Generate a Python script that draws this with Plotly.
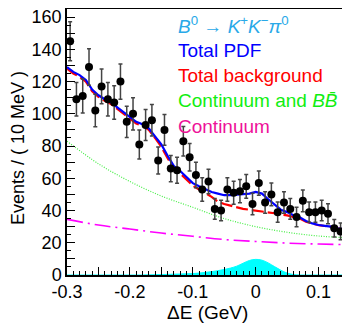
import numpy as np
import plotly.graph_objects as go

# ---- data ----
bin_centers = [-0.295, -0.285, -0.275, -0.265, -0.255, -0.245, -0.235, -0.225, -0.215, -0.205,
               -0.195, -0.185, -0.175, -0.165, -0.155, -0.145, -0.135, -0.125, -0.115, -0.105,
               -0.095, -0.085, -0.075, -0.065, -0.055, -0.045, -0.035, -0.025, -0.015, -0.005,
               0.005, 0.015, 0.025, 0.035, 0.045, 0.055, 0.065, 0.075, 0.085, 0.095,
               0.105, 0.115, 0.125, 0.135, 0.145]
events = [145, 109, 111, 129, 102, 117, 109, 107, 120, 95,
          100, 81, 93, 96, 71, 90, 66, 65, 83, 73,
          62, 53, 58, 41, 40, 53, 51, 52, 55, 44,
          57, 45, 50, 39, 45, 41, 36, 46, 39, 39,
          40, 38, 29, 27, 31]

curve_x = [-0.30, -0.29, -0.28, -0.27, -0.26, -0.25, -0.24, -0.23, -0.22, -0.21,
           -0.20, -0.19, -0.18, -0.17, -0.16, -0.15, -0.14, -0.13, -0.12, -0.11,
           -0.10, -0.09, -0.08, -0.07, -0.06, -0.05, -0.04, -0.03, -0.02, -0.01,
           0.00, 0.01, 0.02, 0.03, 0.04, 0.05, 0.06, 0.07, 0.08, 0.09,
           0.10, 0.11, 0.12, 0.13, 0.14, 0.15]
total_pdf = [129, 126, 124, 121, 115, 111.5, 109, 107, 104, 101,
             98.5, 95, 93.5, 91, 86, 81, 74, 67.5, 64.5, 60.5,
             57, 55, 53.3, 51.5, 50.5, 49.5, 49.5, 49.8, 50, 50.5,
             51.5, 50.5, 47, 43.5, 40.5, 39, 37, 35.8, 33.5, 32,
             31, 30.5, 30, 29, 28.5, 28]
total_bkg = [128, 125, 123, 120, 114, 110.5, 108, 106, 103, 100,
             97.5, 94, 92.5, 90, 85, 79.5, 72.5, 66, 63, 59,
             55.5, 53, 51, 48.5, 45.5, 44, 43, 41.8, 41, 40.5,
             40, 39.5, 39, 38.3, 37.5, 37, 36, 35, 33, 31.8,
             30.9, 30.4, 29.9, 28.9, 28.4, 27.9]
signal = [0, 0, 0, 0, 0, 0, 0, 0, 0, 0,
          0, 0, 0, 0.1, 0.2, 0.3, 0.4, 0.5, 0.6, 0.7,
          0.9, 1.2, 1.6, 2.1, 2.7, 3.4, 4.3, 5.5, 7.3, 9.0,
          9.7, 9.2, 7.5, 5.2, 3.0, 1.2, 0.3, 0, 0, 0,
          0, 0, 0, 0, 0, 0]

smooth_x = [-0.30, -0.25, -0.20, -0.15, -0.10, -0.05, 0.00, 0.05, 0.10, 0.15]
cont_bb = [83, 69, 58, 49, 42, 35, 30, 26.5, 24.2, 23]
continuum = [34.5, 31, 28.5, 26, 24, 22, 20.8, 19.8, 19.2, 18.8]

x_ticks = [-0.3, -0.25, -0.2, -0.15, -0.1, -0.05, 0.0, 0.05, 0.1]
x_ticktext = ["-0.3", "", "-0.2", "", "-0.1", "", "0", "", "0.1"]
y_ticks = [0, 10, 20, 30, 40, 50, 60, 70, 80, 90, 100, 110, 120, 130, 140, 150, 160]
y_ticktext = ["0", "", "20", "", "40", "", "60", "", "80", "", "100", "", "120", "", "140", "", "160"]

legend_lines = [
    ("<i>B</i><sup>0</sup> \u2192 <i>K</i><sup>+</sup><i>K</i><sup>\u2212</sup><i>\u03c0</i><sup>0</sup>", "#29a9e8"),
    ("Total PDF", "#0000ff"),
    ("Total background", "#ff0000"),
    ("Continuum and <i>B</i><i>B\u0304</i>", "#11ee11"),
    ("Continuum", "#ee1199"),
]

FONT = "Liberation Sans, Arial, Helvetica, sans-serif"

# The page body has an 8px margin, so the figure is sized to the visible area.
PX0, PY0 = 8, 8
FIG_W, FIG_H = 342, 321
PLOT_L, PLOT_R, PLOT_T, PLOT_B = 67, 350, 9, 275   # page pixels
PW, PH = PLOT_R - PLOT_L, PLOT_B - PLOT_T


def paper_x(px):
    return (px - PLOT_L) / PW


def paper_y(py):
    return (PLOT_B - py) / PH


fig = go.Figure()

fig.add_trace(go.Scatter(x=curve_x, y=signal, mode="lines", fill="tozeroy",
                         line=dict(color="#00ffff", width=1, shape="spline"),
                         fillcolor="#00ffff", hoverinfo="skip", showlegend=False))
fig.add_trace(go.Scatter(x=smooth_x, y=continuum, mode="lines",
                         line=dict(color="#ff00ff", width=1.6, dash="16px,5px,2px,5px", shape="spline"),
                         showlegend=False))
fig.add_trace(go.Scatter(x=smooth_x, y=cont_bb, mode="lines",
                         line=dict(color="#44ee44", width=1.2, dash="1px,1.5px", shape="spline"),
                         showlegend=False))
fig.add_trace(go.Scatter(x=curve_x, y=total_bkg, mode="lines",
                         line=dict(color="#ff0000", width=2.2, dash="12px,4px"),
                         showlegend=False))
fig.add_trace(go.Scatter(x=curve_x, y=total_pdf, mode="lines",
                         line=dict(color="#0000ff", width=2.2),
                         showlegend=False))
fig.add_trace(go.Scatter(x=bin_centers, y=events, mode="markers",
                         marker=dict(color="black", size=8),
                         error_y=dict(type="data", array=np.sqrt(events), color="#444444",
                                      thickness=1.5, width=2),
                         showlegend=False))

annotations = []
legend_y_px = [25, 50.5, 76, 100.5, 126]
for (txt, col), ypx in zip(legend_lines, legend_y_px):
    annotations.append(dict(xref="paper", yref="paper", x=paper_x(176), y=paper_y(ypx),
                            xanchor="left", yanchor="middle", text=txt, showarrow=False,
                            font=dict(family=FONT, size=19, color=col)))
annotations.append(dict(xref="paper", yref="paper", x=paper_x(207), y=paper_y(312),
                        xanchor="center", yanchor="middle", text="\u0394E (GeV)", showarrow=False,
                        font=dict(family=FONT, size=19, color="black")))
annotations.append(dict(xref="paper", yref="paper", x=paper_x(18), y=paper_y(148),
                        xanchor="center", yanchor="middle", text="Events / ( 10 MeV )",
                        textangle=-90, showarrow=False,
                        font=dict(family=FONT, size=18, color="black")))

fig.update_layout(
    width=FIG_W, height=FIG_H,
    margin=dict(l=PLOT_L - PX0, r=FIG_W - (PLOT_R - PX0), t=PLOT_T - PY0, b=FIG_H - (PLOT_B - PY0),
                autoexpand=False),
    paper_bgcolor="white", plot_bgcolor="white",
    font=dict(family=FONT, size=18, color="black"),
    annotations=annotations,
    showlegend=False,
)
fig.update_xaxes(range=[-0.3, 0.15], showgrid=False, zeroline=False,
                 showline=True, linecolor="black", linewidth=1.5, mirror=True,
                 ticks="inside", ticklen=8, tickwidth=1, tickcolor="black",
                 tickvals=x_ticks, ticktext=x_ticktext, ticklabeloverflow="allow",
                 minor=dict(ticks="inside", ticklen=4, dtick=0.01, tick0=0, tickcolor="black", showgrid=False),
                 tickfont=dict(size=18, family=FONT))
fig.update_yaxes(range=[0, 165], showgrid=False, zeroline=False,
                 showline=True, linecolor="black", linewidth=1.5, mirror=True,
                 ticks="inside", ticklen=8, tickwidth=1, tickcolor="black",
                 tickvals=y_ticks, ticktext=y_ticktext, ticklabeloverflow="allow",
                 minor=dict(ticks="inside", ticklen=4, dtick=5, tick0=0, tickcolor="black", showgrid=False),
                 tickfont=dict(size=18, family=FONT))

fig.write_html("out.html")
